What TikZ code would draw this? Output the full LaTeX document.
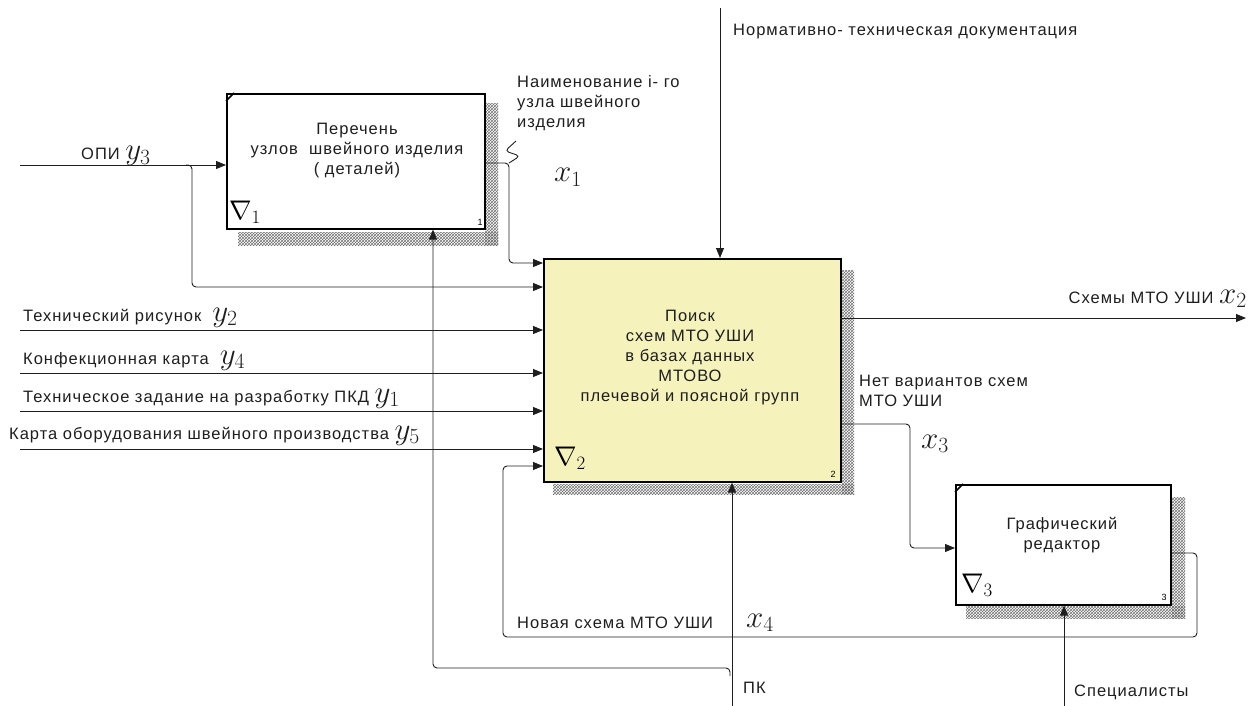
\RequirePackage{fix-cm}
\documentclass[tikz,border=0pt]{standalone}
\usepackage{fontspec}
\setmainfont{Liberation Sans}[LetterSpace=6]
\usetikzlibrary{arrows.meta,patterns,calc}
\definecolor{boxyellow}{RGB}{245,242,188}
\definecolor{ink}{RGB}{30,30,30}
\newcommand\mymath[1]{{\fontsize{31}{31}\selectfont$#1$}}
\newcommand\mynabla[1]{{\fontsize{27}{27}\selectfont$\nabla_{#1}$}}
\newcommand\lblfont{\fontsize{16.5}{20}\selectfont}
\tikzset{
  box/.style={draw=black, line width=1.6pt, inner sep=0pt, anchor=north west},
  conn/.style={draw=ink, line width=0.9pt, rounded corners=4pt},
  arr/.style={-{Triangle[length=10pt,width=8pt]}},
  lbl/.style={font=\lblfont, inner sep=1pt, text=ink},
  boxtext/.style={font=\lblfont, align=center, inner sep=0pt, text=ink},
  boxnum/.style={font=\fontsize{9}{9}\selectfont, inner sep=0pt},
  nabla/.style={inner sep=0pt, anchor=base west},
  shade/.style={pattern=crosshatch, pattern color=black!55},
  tick/.style={line width=1.6pt}
}
\begin{document}
\begin{tikzpicture}[x=1pt,y=-1pt]
\useasboundingbox (0,0) rectangle (1251,706);

% shadows
\fill[shade] (485,104) rectangle (498,245);
\fill[shade] (238,232) rectangle (498,245);
\fill[shade] (842,270) rectangle (854,494);
\fill[shade] (553,484) rectangle (854,494);
\fill[shade] (1172,497) rectangle (1185,618);
\fill[shade] (966,606) rectangle (1185,618);

% boxes
\node[box, fill=white, minimum width=258pt, minimum height=135pt] (b1) at (226,93) {};
\node[box, fill=boxyellow, minimum width=297pt, minimum height=223pt] (b2) at (543,258) {};
\node[box, fill=white, minimum width=215pt, minimum height=120pt] (b3) at (955,484) {};

\draw[tick] (226,101) -- (234,93);
\draw[tick] (955,492) -- (963,484);

\node[boxtext] (t1) at (357,151) {Перечень\\узлов \ швейного изделия\\( деталей)};
\node[boxtext] (t2) at (690,358) {Поиск\\схем МТО УШИ\\в базах данных\\МТОВО\\плечевой и поясной групп};
\node[boxtext] (t3) at (1062,535) {Графический\\редактор};

\node[boxnum] (n1) at (480,222) {1};
\node[boxnum] (n2) at (833,474) {2};
\node[boxnum] (n3) at (1164,597) {3};

\node[nabla] (v1) at (229,219) {\mynabla{1}};
\node[nabla] (v2) at (554,465) {\mynabla{2}};
\node[nabla] (v3) at (961,592) {\mynabla{3}};

% coordinates
\coordinate (opi) at (20,165);
\coordinate (opibr) at (186,165);
\coordinate (opiy) at (192,287);
\coordinate (in2) at (20,330);
\coordinate (in4) at (20,373);
\coordinate (in1) at (20,411);
\coordinate (in5) at (20,449);
\coordinate (x1v) at (509,163);
\coordinate (x1y) at (509,263);
\coordinate (ctl) at (720,8);
\coordinate (pk) at (732,706);
\coordinate (pkbr) at (730,676);
\coordinate (pky) at (433,668);
\coordinate (x2o) at (840,318);
\coordinate (x2e) at (1246,318);
\coordinate (x3o) at (840,424);
\coordinate (x3v) at (910,548);
\coordinate (x4o) at (1170,553);
\coordinate (x4c) at (1197,637);
\coordinate (x4v) at (503,466);
\coordinate (sp) at (1064,706);

% connectors
\draw[conn,arr] (opi) -- (b1.west |- opi);
\draw[conn,arr] (opibr) -| (opiy) -- (b2.west |- opiy);
\draw[conn,arr] (in2) -- (b2.west |- in2);
\draw[conn,arr] (in4) -- (b2.west |- in4);
\draw[conn,arr] (in1) -- (b2.west |- in1);
\draw[conn,arr] (in5) -- (b2.west |- in5);
\draw[conn,arr] (b1.east |- x1v) -| (x1y) -- (b2.west |- x1y);
\draw[conn] (516,141) -- (505,151) -- (520,156) -- (509,163);
\draw[conn,arr] (ctl) -- (b2.north -| ctl);
\draw[conn,arr] (pk) -- (b2.south -| pk);
\draw[conn,arr] (pkbr) |- (pky) -- (b1.south -| pky);
\draw[conn,arr] (x2o) -- (x2e);
\draw[conn,arr] (x3o) -| (x3v) -- (b3.west |- x3v);
\draw[conn,arr] (b3.east |- x4o) -| (x4c) -| (x4v) -- (b2.west |- x4v);
\draw[conn,arr] (sp) -- (b3.south -| sp);

% labels
\node[lbl, anchor=base west] (lopi) at (80,160) {ОПИ \mymath{y_3}};
\node[lbl, anchor=base west] (l2) at (22,321) {Технический рисунок \ \mymath{y_2}};
\node[lbl, anchor=base west] (l4) at (22,364) {Конфекционная карта \ \mymath{y_4}};
\node[lbl, anchor=base west] (l1) at (22,402) {Техническое задание на разработку ПКД \mymath{y_1}};
\node[lbl, anchor=base west] (l5) at (8,439) {Карта оборудования швейного производства \mymath{y_5}};
\node[lbl, anchor=base west] (lctl) at (732,36) {Нормативно- техническая документация};
\node[lbl, anchor=north west, align=left] (lx1t) at (516,74) {Наименование i- го\\узла швейного\\изделия};
\node[lbl, anchor=base west] (lx1) at (553,182) {\mymath{x_1}};
\node[lbl, anchor=base east] (lx2) at (1248,303) {Схемы МТО УШИ \mymath{x_2}};
\node[lbl, anchor=north west, align=left] (lx3t) at (858,374) {Нет вариантов схем\\МТО УШИ};
\node[lbl, anchor=base west] (lx3) at (920,448) {\mymath{x_3}};
\node[lbl, anchor=base west] (lx4t) at (516,628) {Новая схема МТО УШИ};
\node[lbl, anchor=base west] (lx4) at (745,627) {\mymath{x_4}};
\node[lbl, anchor=base west] (lpk) at (742,693) {ПК};
\node[lbl, anchor=base west] (lsp) at (1073,696) {Специалисты};
\end{tikzpicture}
\end{document}
